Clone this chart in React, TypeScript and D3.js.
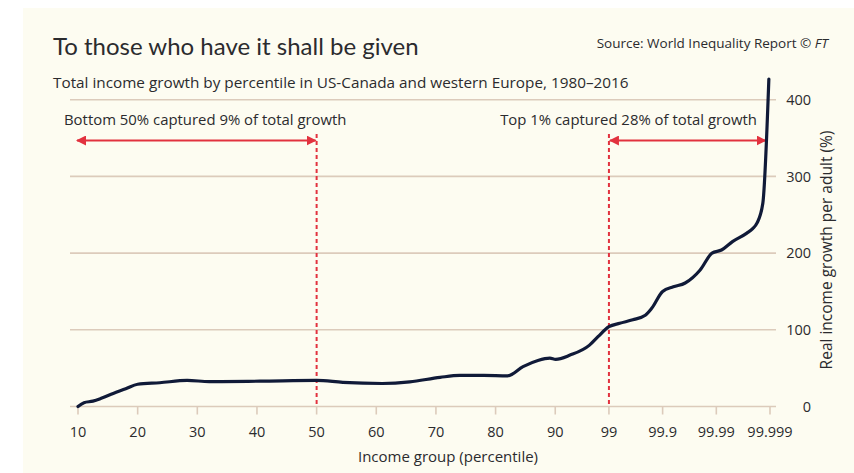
import * as d3 from "d3";

const percentiles = [
  10, 11, 12.5, 14, 15.9, 18, 20, 23.7, 28.3, 32, 40.5, 50, 54.4, 61, 65.6,
  70.7, 74, 78, 82, 84.6, 87.1, 89.1, 90.2, 94.7, 97.7, 98.4, 99, 99.37,
  99.64, 99.79, 99.84, 99.9, 99.937, 99.962, 99.98, 99.988, 99.992, 99.995,
  99.9973, 99.9979, 99.99825, 99.99864, 99.99895,
];
const growth = [
  0, 5, 7, 11, 17, 23, 29, 31, 34, 32.5, 33, 34, 31.5, 30, 32,
  38, 40.5, 40.5, 40, 52, 60, 63, 61.5, 67, 80, 91, 104, 108.5,
  113, 119, 128, 150, 156, 161, 178, 200, 204, 215,
  226, 232, 239, 265, 427,
];

const xTicks = [10, 20, 30, 40, 50, 60, 70, 80, 90, 99, 99.9, 99.99, 99.999];
const xTickLabels = ["10", "20", "30", "40", "50", "60", "70", "80", "90", "99", "99.9", "99.99", "99.999"];
const yTicks = [0, 100, 200, 300, 400];

const bottomCut = 50;
const topCut = 99;

const title = "To those who have it shall be given";
const subtitle = "Total income growth by percentile in US-Canada and western Europe, 1980\u20132016";
const source = "Source: World Inequality Report  \u00A9 ";
const bottomNote = "Bottom 50% captured 9% of total growth";
const topNote = "Top 1% captured 28% of total growth";

const TITLE_FONT = "Lato, sans-serif";
const FONT = "'Open Sans', Lato, sans-serif";
const INK = "#2b2b2e";
const GRID = "#dccbbb";
const RED = "#e2323f";
const LINE = "#101a38";

// linear up to 90, then each further "nine" gets equal room
const warp = (p: number) => (p <= 90 ? p : 90 + 9 * Math.log10(10 / (100 - p)));

export default function App() {
  const xs = d3.scaleLinear().domain([10, 126]).range([78, 770]);
  const x = (p: number) => xs(warp(p));
  const y = d3.scaleLinear().domain([0, 400]).range([406.5, 99.7]);

  const pts = percentiles.map((p, i) => [p, growth[i]] as [number, number]);
  const line = d3
    .line<[number, number]>()
    .x((d) => x(d[0]))
    .y((d) => y(d[1]))
    .curve(d3.curveMonotoneX);

  const gridLeft = 70;
  const gridRight = 776;
  const arrowY = 140.5;
  const dashTop = 134;

  return (
    <svg
      width={854}
      height={473}
      style={{ position: "absolute", left: 0, top: 0, background: "#ffffff" }}
      fontFamily={FONT}
    >
      <defs>
        <marker id="ah" viewBox="0 0 10 10" refX="9" refY="5" markerWidth="10" markerHeight="10" markerUnits="userSpaceOnUse" orient="auto-start-reverse">
          <path d="M0,0 L10,5 L0,10 z" fill={RED} />
        </marker>
      </defs>
      <rect x={23} y={8} width={831} height={465} fill="#fdfcf1" />

      <text x={53} y={55} fontSize={24} fill={INK} fontFamily={TITLE_FONT}>{title}</text>
      <text x={828} y={48} fontSize={13.5} fill={INK} textAnchor="end">
        {source}
        <tspan fontStyle="italic">FT</tspan>
      </text>
      <text x={53} y={88} fontSize={15.3} fill={INK}>{subtitle}</text>

      {yTicks.map((t) => (
        <g key={t}>
          <line x1={gridLeft} x2={gridRight} y1={y(t)} y2={y(t)} stroke={GRID} strokeWidth={1.6} />
          <text x={811} y={y(t)} dy="0.36em" fontSize={14.5} fill={INK} textAnchor="end">{t}</text>
        </g>
      ))}

      {xTicks.map((t, i) => (
        <g key={t}>
          <line x1={x(t)} x2={x(t)} y1={y(0)} y2={y(0) + 8} stroke={GRID} strokeWidth={1.6} />
          <text x={x(t)} y={437} fontSize={14.5} fill={INK} textAnchor="middle">{xTickLabels[i]}</text>
        </g>
      ))}

      <text x={448} y={462} fontSize={15} fill={INK} textAnchor="middle">Income group (percentile)</text>
      <text transform="translate(832,250) rotate(-90)" fontSize={15.5} fill={INK} textAnchor="middle">
        Real income growth per adult (%)
      </text>

      {/* cut-off markers */}
      {[bottomCut, topCut].map((c) => (
        <line key={c} x1={x(c)} x2={x(c)} y1={dashTop} y2={y(0)} stroke={RED} strokeWidth={2} strokeDasharray="4,3" />
      ))}
      <line x1={x(10) - 1} x2={x(bottomCut) - 1} y1={arrowY} y2={arrowY} stroke={RED} strokeWidth={2}
        markerStart="url(#ah)" markerEnd="url(#ah)" />
      <line x1={x(topCut) + 1} x2={x(99.9988)} y1={arrowY} y2={arrowY} stroke={RED} strokeWidth={2}
        markerStart="url(#ah)" markerEnd="url(#ah)" />
      <text x={64} y={125} fontSize={14.9} fill={INK}>{bottomNote}</text>
      <text x={757} y={125} fontSize={14.9} fill={INK} textAnchor="end">{topNote}</text>

      <path d={line(pts) ?? ""} fill="none" stroke={LINE} strokeWidth={3.2} strokeLinejoin="round" strokeLinecap="round" />
    </svg>
  );
}
